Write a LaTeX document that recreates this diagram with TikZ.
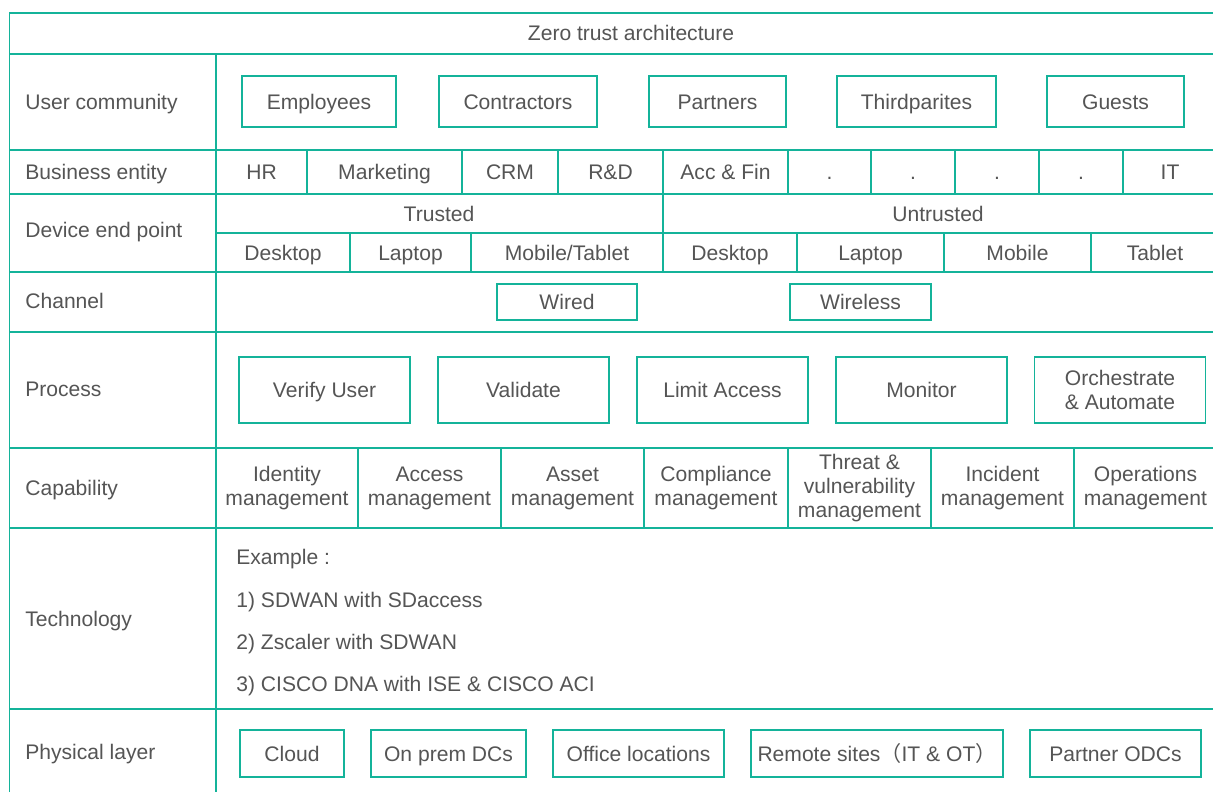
\documentclass[tikz,border=0pt]{standalone}
\usepackage{fontspec}
\setmainfont{Liberation Sans}
\newfontfamily\cjkfont{Noto Sans CJK SC}
\usepackage{tikz}
\usetikzlibrary{positioning}
\definecolor{ztteal}{HTML}{14B39A}
\definecolor{zttext}{HTML}{555555}
\tikzset{
  rowlabel/.style={
    anchor=west,
    text=zttext,
    inner sep=0pt,
    text height=8.6pt,
    text depth=0pt,
    font=\fontsize{12}{14}\selectfont
  },
  celltext/.style={
    align=center,
    text=zttext,
    inner sep=0pt,
    text height=8.6pt,
    text depth=0pt,
    font=\fontsize{12}{14}\selectfont
  },
  multitext/.style={
    align=center,
    text=zttext,
    inner sep=0pt,
    font=\fontsize{12}{13.6}\selectfont
  },
  itembox/.style={
    draw=ztteal,
    line width=0.85pt,
    align=center,
    text=zttext,
    inner sep=0pt,
    outer sep=0pt,
    text height=8.6pt,
    text depth=0pt,
    font=\fontsize{12}{14}\selectfont
  },
  gridline/.style={draw=ztteal,line width=0.85pt}
}

\begin{document}
\begin{tikzpicture}[x=0.02cm,y=-0.02cm]
  \useasboundingbox[fill=white] (0,0) rectangle (1213,792);
  % frame and rows
  \draw[gridline] (9.5,792) -- (9.5,13) -- (1213,13);
  \draw[gridline] (216,54) -- (216,792);
  \draw[gridline] (9.5,54) -- (1213,54);
  \draw[gridline] (9.5,150) -- (1213,150);
  \draw[gridline] (9.5,194) -- (1213,194);
  \draw[gridline] (216,233) -- (1213,233);
  \draw[gridline] (9.5,272) -- (1213,272);
  \draw[gridline] (9.5,332) -- (1213,332);
  \draw[gridline] (9.5,448) -- (1213,448);
  \draw[gridline] (9.5,528) -- (1213,528);
  \draw[gridline] (9.5,709) -- (1213,709);
  % cell dividers
  \draw[gridline] (307,150) -- (307,194) (462,150) -- (462,194) (558,150) -- (558,194)
    (663,150) -- (663,194) (788,150) -- (788,194) (871,150) -- (871,194)
    (955,150) -- (955,194) (1039,150) -- (1039,194) (1123,150) -- (1123,194);
  \draw[gridline] (663,194) -- (663,272);
  \draw[gridline] (350,233) -- (350,272) (471,233) -- (471,272)
    (797,233) -- (797,272) (944,233) -- (944,272) (1091,233) -- (1091,272);
  \draw[gridline] (358,448) -- (358,528) (501,448) -- (501,528) (644,448) -- (644,528)
    (788,448) -- (788,528) (931,448) -- (931,528) (1074,448) -- (1074,528);

  \node[celltext] (title) at (631,33) {Zero trust architecture};

  \node[rowlabel] (usercom) at (25,102) {User community};
  \node[rowlabel] (busent) at (25,172) {Business entity};
  \node[rowlabel] (devend) at (25,230) {Device end point};
  \node[rowlabel] (channel) at (25,301) {Channel};
  \node[rowlabel] (process) at (25,389) {Process};
  \node[rowlabel] (capab) at (25,488) {Capability};
  \node[rowlabel] (techno) at (25,619) {Technology};
  \node[rowlabel] (physical) at (25,752) {Physical layer};

  \node[itembox, minimum width=3.08cm, minimum height=1.02cm] (employees) at (319,101.5) {Employees};
  \node[itembox, minimum width=3.16cm, minimum height=1.02cm] (contractors) at (518,101.5) {Contractors};
  \node[itembox, minimum width=2.74cm, minimum height=1.02cm] (partners) at (717.5,101.5) {Partners};
  \node[itembox, minimum width=3.18cm, minimum height=1.02cm] (thirdp) at (916.5,101.5) {Thirdparites};
  \node[itembox, minimum width=2.74cm, minimum height=1.02cm] (guests) at (1115.5,101.5) {Guests};

  \node[celltext] (hr) at (261.5,172) {HR};
  \node[celltext] (marketing) at (384.5,172) {Marketing};
  \node[celltext] (crm) at (510,172) {CRM};
  \node[celltext] (rnd) at (610.5,172) {R\&D};
  \node[celltext] (accfin) at (725.5,172) {Acc \& Fin};
  \node[celltext] (dotA) at (829.5,172) {.};
  \node[celltext] (dotB) at (913,172) {.};
  \node[celltext] (dotC) at (997,172) {.};
  \node[celltext] (dotD) at (1081,172) {.};
  \node[celltext] (it) at (1170,172) {IT};

  \node[celltext] (trusted) at (439,213.5) {Trusted};
  \node[celltext] (untrusted) at (938,213.5) {Untrusted};
  \node[celltext] (tdesktop) at (283,252.5) {Desktop};
  \node[celltext] (tlaptop) at (410.5,252.5) {Laptop};
  \node[celltext] (tmobile) at (567,252.5) {Mobile/Tablet};
  \node[celltext] (udesktop) at (730,252.5) {Desktop};
  \node[celltext] (ulaptop) at (870.5,252.5) {Laptop};
  \node[celltext] (umobile) at (1017.5,252.5) {Mobile};
  \node[celltext] (utablet) at (1155,252.5) {Tablet};

  \node[itembox, minimum width=2.80cm, minimum height=0.72cm] (wired) at (567,302) {Wired};
  \node[itembox, minimum width=2.82cm, minimum height=0.72cm] (wireless) at (860.5,302) {Wireless};

  \node[itembox, minimum width=3.42cm, minimum height=1.32cm] (verify) at (324.5,390) {Verify User};
  \node[itembox, minimum width=3.42cm, minimum height=1.32cm] (validate) at (523.5,390) {Validate};
  \node[itembox, minimum width=3.42cm, minimum height=1.32cm] (limit) at (722.5,390) {Limit Access};
  \node[itembox, minimum width=3.42cm, minimum height=1.32cm] (monitor) at (921.5,390) {Monitor};
  \node[itembox, minimum width=3.42cm, minimum height=1.32cm, text height=, text depth=] (orchestr) at (1120,390) {Orchestrate\\\& Automate};

  \node[multitext] (identity) at (287,488) {Identity\\management};
  \node[multitext] (access) at (429.5,488) {Access\\management};
  \node[multitext] (asset) at (572.5,488) {Asset\\management};
  \node[multitext] (compliance) at (716,488) {Compliance\\management};
  \node[multitext] (threat) at (859.5,488) {Threat \&\\vulnerability\\management};
  \node[multitext] (incident) at (1002.5,488) {Incident\\management};
  \node[multitext] (operations) at (1145.5,488) {Operations\\management};

  \node[rowlabel] (example) at (236,557) {Example :};
  \node[rowlabel] (sdwan) at (236,600) {1) SDWAN with SDaccess};
  \node[rowlabel] (zscaler) at (236,642) {2) Zscaler with SDWAN};
  \node[rowlabel] (cisco) at (236,684) {3) CISCO DNA with ISE \& CISCO ACI};

  \node[itembox, minimum width=2.08cm, minimum height=0.94cm] (cloud) at (292,753.5) {Cloud};
  \node[itembox, minimum width=3.10cm, minimum height=0.94cm] (onprem) at (448.5,753.5) {On prem DCs};
  \node[itembox, minimum width=3.42cm, minimum height=0.94cm] (office) at (638.5,753.5) {Office locations};
  \node[itembox, minimum width=5.04cm, minimum height=0.94cm] (remote) at (877,753.5) {Remote sites{\cjkfont（}IT \& OT{\cjkfont）}};
  \node[itembox, minimum width=3.42cm, minimum height=0.94cm] (partnerodc) at (1115.5,753.5) {Partner ODCs};
\end{tikzpicture}
\end{document}
